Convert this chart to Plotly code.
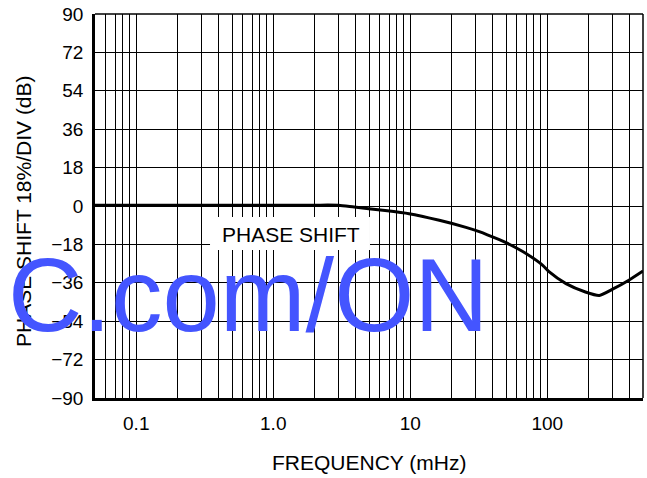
import math
import plotly.graph_objects as go

# ---- data ----
freq_mhz = [0.05, 0.1, 0.3, 1.0, 2.0, 3.0, 3.9, 6.3, 9.8, 16.3, 25.5, 31.9,
            44.7, 50, 70, 92.7, 103, 137, 190, 240, 300, 394, 500]
phase_shift = [0.4, 0.4, 0.4, 0.4, 0.4, 0.35, -0.5, -2.0, -3.6, -6.7, -10.0, -12.0,
               -15.8, -17.2, -22.3, -27.8, -30.8, -36.4, -40.3, -41.9, -39.0, -34.8, -30.5]

x_label_vals = [0.1, 1.0, 10, 100]
x_label_text = ["0.1", "1.0", "10", "100"]
y_tick_vals = [90, 72, 54, 36, 18, 0, -18, -36, -54, -72, -90]
y_tick_text = ["90", "72", "54", "36", "18", "0", "\u221218", "\u221236",
               "\u221254", "\u221272", "\u221290"]

x_min, x_max = 0.05, 500

# grid positions: 1..9 per decade
grid_vals = []
for e in range(-2, 3):
    for m in range(1, 10):
        v = round(m * 10 ** e, 6)
        if x_min <= v <= x_max:
            grid_vals.append(v)
grid_text = []
for v in grid_vals:
    txt = ""
    for lv, lt in zip(x_label_vals, x_label_text):
        if abs(v - lv) < 1e-9:
            txt = lt
    grid_text.append(txt)

FONT = "Liberation Sans, Arial, Helvetica, sans-serif"

fig = go.Figure()
fig.add_trace(go.Scatter(
    x=freq_mhz, y=phase_shift, mode="lines",
    line=dict(color="black", width=3, shape="spline", smoothing=0.6),
    hoverinfo="skip", showlegend=False,
))

fig.update_layout(
    width=647, height=478,
    margin=dict(l=95, r=4, t=14, b=80, autoexpand=False),
    paper_bgcolor="white", plot_bgcolor="white",
    font=dict(family=FONT, size=19, color="black"),
    showlegend=False,
    xaxis=dict(
        type="log", range=[math.log10(x_min), math.log10(x_max)],
        tickmode="array", tickvals=grid_vals, ticktext=grid_text,
        showgrid=True, gridcolor="black", gridwidth=1,
        showline=True, linecolor="black", linewidth=2.5,
        ticks="", zeroline=False, ticklabelstandoff=6, automargin=False,
        ticklabeloverflow="allow",
        tickfont=dict(family=FONT, size=19, color="black"),
    ),
    yaxis=dict(
        range=[-90, 90],
        tickmode="array", tickvals=y_tick_vals, ticktext=y_tick_text,
        showgrid=True, gridcolor="black", gridwidth=1,
        showline=True, linecolor="black", linewidth=2.5,
        ticks="", zeroline=False, ticklabelstandoff=5, automargin=False,
        ticklabeloverflow="allow",
        tickfont=dict(family=FONT, size=19, color="black"),
    ),
    shapes=[
        dict(type="line", xref="paper", yref="paper", x0=0, x1=1, y0=1, y1=1,
             line=dict(color="black", width=1.5), layer="above"),
        dict(type="line", xref="paper", yref="paper", x0=1, x1=1, y0=0, y1=1,
             line=dict(color="black", width=1.5), layer="above"),
        dict(type="rect", xref="paper", yref="paper",
             x0=0.2099, x1=0.5018, y0=0.3854, y1=0.4714,
             fillcolor="white", line=dict(width=0), layer="above"),
    ],
    annotations=[
        dict(text="PHASE SHIFT", xref="paper", yref="paper", x=0.3573, y=0.425,
             xanchor="center", yanchor="middle", showarrow=False,
             font=dict(family=FONT, size=21, color="black")),
        dict(text="FREQUENCY (mHz)", xref="paper", yref="paper", x=0.5, y=-0.1667,
             xanchor="center", yanchor="middle", showarrow=False,
             font=dict(family=FONT, size=21, color="black")),
        dict(text="PHASE SHIFT 18%/DIV (dB)", xref="paper", yref="paper",
             x=-0.1296, y=0.487, textangle=-90,
             xanchor="center", yanchor="middle", showarrow=False,
             font=dict(family=FONT, size=21, color="black")),
        dict(text="C.com/ON", xref="paper", yref="paper", x=0.2800, y=0.267,
             xanchor="center", yanchor="middle", showarrow=False,
             font=dict(family=FONT, size=103, color="#4455FF")),
    ],
)

# remove the browser's default 8px body margin so the figure fills the window
fig.write_html("out.html",
               config={"displayModeBar": False},
               post_script="document.body.style.margin='0';"
                           "document.body.style.overflow='hidden';")
